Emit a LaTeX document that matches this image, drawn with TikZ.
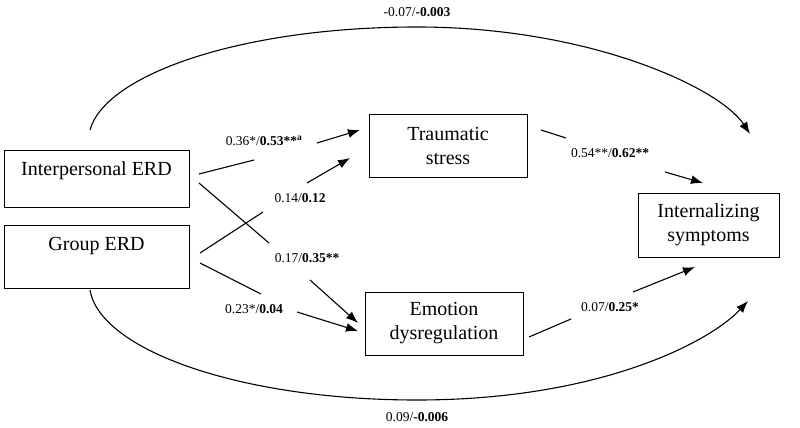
\documentclass[tikz,border=0pt]{standalone}
\usepackage{fontspec}
\setmainfont{Liberation Serif}
\usetikzlibrary{arrows.meta}
\begin{document}
\begin{tikzpicture}[x=1pt,y=-1pt,
  box/.style={draw,line width=1pt,inner sep=0pt},
  big/.style={font=\fontsize{20}{24}\selectfont,align=center,inner sep=0pt},
  lab/.style={font=\fontsize{13.5}{16}\selectfont,inner sep=0pt},
  ln/.style={line width=1.1pt},
  arr/.style={line width=1.1pt,-{Latex[length=12pt,width=9pt]}}]
\useasboundingbox (0,0) rectangle (800,428);
% boxes
\node[box,minimum width=185pt,minimum height=57pt] (ierd) at (96.5,178.5) {};
\node[big] (ierdt) at (96.5,171) {Interpersonal ERD};
\node[box,minimum width=185pt,minimum height=63pt] (gerd) at (96.5,256.5) {};
\node[big] (gerdt) at (96.5,246) {Group ERD};
\node[box,big,minimum width=158pt,minimum height=63pt] (ts) at (448,145.5) {Traumatic\\stress};
\node[box,big,minimum width=141pt,minimum height=64pt] (is) at (708.5,225) {Internalizing\\symptoms};
\node[box,big,minimum width=158pt,minimum height=63pt] (ed) at (444,323.5) {Emotion\\dysregulation};
% coordinates
\coordinate (s1) at (199,174); \coordinate (g1a) at (254,160); \coordinate (g1b) at (317,143); \coordinate (e1) at (360,130);
\coordinate (s2) at (200,253); \coordinate (g2a) at (263,212); \coordinate (g2b) at (307,183); \coordinate (e2) at (350,158);
\coordinate (s3) at (199,183); \coordinate (g3a) at (269,243); \coordinate (g3b) at (310,280); \coordinate (e3) at (358,323);
\coordinate (s4) at (200,263); \coordinate (g4a) at (261,294); \coordinate (g4b) at (297,312); \coordinate (e4) at (358,331);
\coordinate (s5) at (541,130); \coordinate (g5a) at (566,138); \coordinate (g5b) at (665,172); \coordinate (e5) at (703,183);
\coordinate (s6) at (529,337); \coordinate (g6a) at (571,319); \coordinate (g6b) at (633,292); \coordinate (e6) at (695,267);
\coordinate (t0) at (90,130); \coordinate (tm) at (417,27); \coordinate (t1) at (750,134);
\coordinate (b0) at (90,290); \coordinate (bm) at (417,400); \coordinate (b1) at (748,301);
% connectors
\draw[ln] (s1) -- (g1a); \draw[arr] (g1b) -- (e1);
\draw[ln] (s2) -- (g2a); \draw[arr] (g2b) -- (e2);
\draw[ln] (s3) -- (g3a); \draw[arr] (g3b) -- (e3);
\draw[ln] (s4) -- (g4a); \draw[arr] (g4b) -- (e4);
\draw[ln] (s5) -- (g5a); \draw[arr] (g5b) -- (e5);
\draw[ln] (s6) -- (g6a); \draw[arr] (g6b) -- (e6);
\draw[arr] (t0) .. controls (105,75) and (240,27) .. (tm) .. controls (590,27) and (720,88) .. (t1);
\draw[arr] (b0) .. controls (100,350) and (240,400) .. (bm) .. controls (600,400) and (710,342) .. (b1);
% labels
\node[lab] (l1) at (264,141) {0.36*/\textbf{0.53**}\textsuperscript{\textbf{a}}};
\node[lab] (l2) at (300,198) {0.14/\textbf{0.12}};
\node[lab] (l3) at (307,258) {0.17/\textbf{0.35**}};
\node[lab] (l4) at (254,309) {0.23*/\textbf{0.04}};
\node[lab] (l5) at (610,153) {0.54**/\textbf{0.62**}};
\node[lab] (l6) at (610,307) {0.07/\textbf{0.25*}};
\node[lab] (lt) at (417,12) {-0.07/\textbf{-0.003}};
\node[lab] (lb) at (417,417) {0.09/\textbf{-0.006}};
\end{tikzpicture}
\end{document}
